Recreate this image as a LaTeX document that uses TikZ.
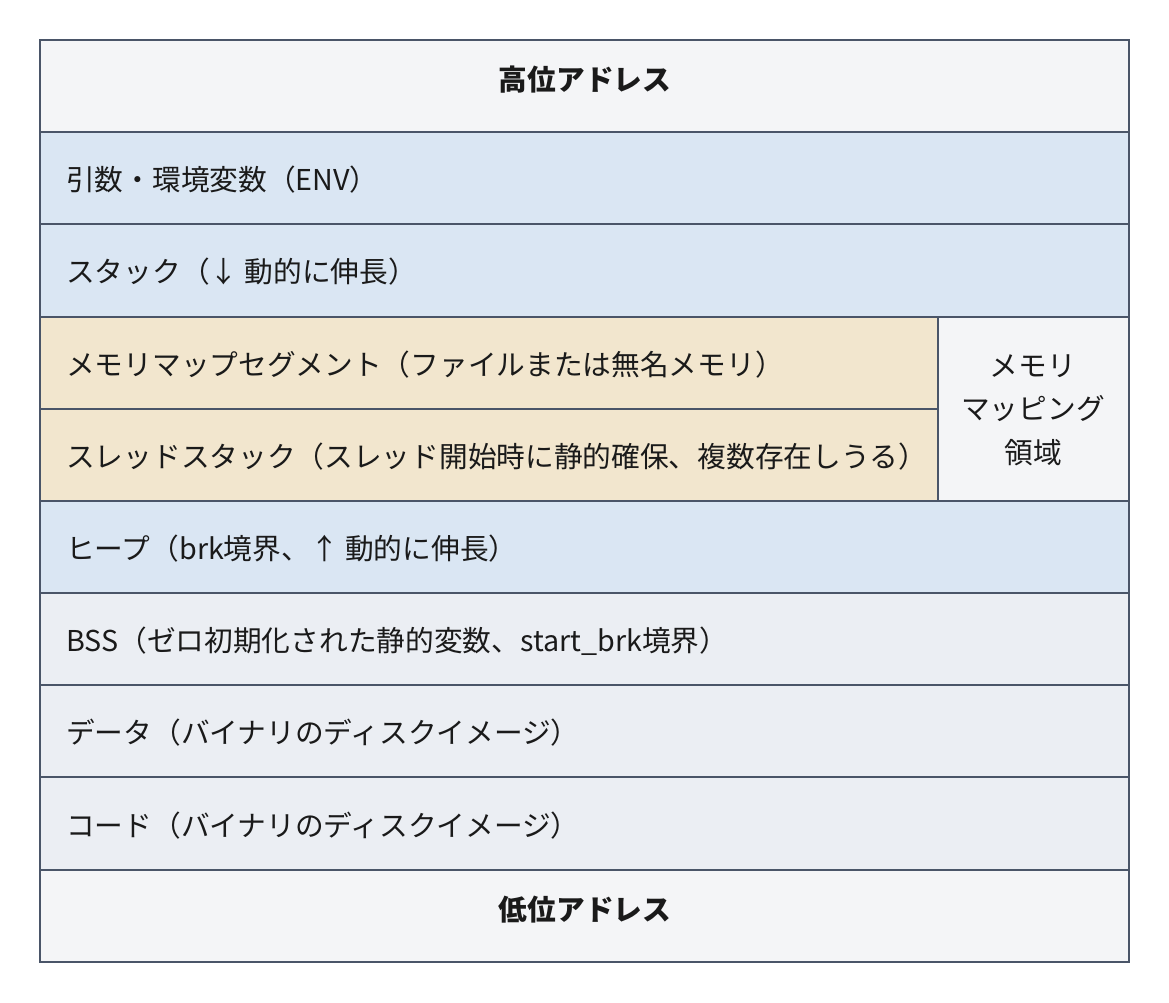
\documentclass[tikz,border=0pt]{standalone}
\usepackage{fontspec}
\setmainfont{Noto Sans CJK JP}
\begin{document}
\begin{tikzpicture}[x=1pt,y=-1pt,
  cell/.style={draw=bordercol,line width=2pt},
  lbl/.style={anchor=west,inner sep=0pt,text=textcol,font=\fontsize{28.7}{34}\selectfont},
  clbl/.style={inner sep=0pt,text=textcol,font=\fontsize{28.7}{34}\selectfont\bfseries},
]
\definecolor{bordercol}{HTML}{4A5568}
\definecolor{textcol}{HTML}{1A1A1A}
\definecolor{c-light}{HTML}{F4F5F7}
\definecolor{c-blue}{HTML}{DAE6F3}
\definecolor{c-beige}{HTML}{F2E6CE}
\definecolor{c-gray}{HTML}{EBEEF3}
\useasboundingbox (0,0) rectangle (1169,1003);
\fill[white] (0,0) rectangle (1169,1003);
% rows
\filldraw[cell,fill=c-light] (40,40) rectangle (1129,132);
\filldraw[cell,fill=c-blue] (40,132) rectangle (1129,224);
\filldraw[cell,fill=c-blue] (40,224) rectangle (1129,317);
\filldraw[cell,fill=c-beige] (40,317) rectangle (938,409);
\filldraw[cell,fill=c-beige] (40,409) rectangle (938,501);
\filldraw[cell,fill=c-light] (938,317) rectangle (1129,501);
\filldraw[cell,fill=c-blue] (40,501) rectangle (1129,593);
\filldraw[cell,fill=c-gray] (40,593) rectangle (1129,685);
\filldraw[cell,fill=c-gray] (40,685) rectangle (1129,777);
\filldraw[cell,fill=c-gray] (40,777) rectangle (1129,870);
\filldraw[cell,fill=c-light] (40,870) rectangle (1129,962);
% labels
\node[clbl] (hi) at (585,80) {高位アドレス};
\node[lbl] (env) at (66,180) {引数・環境変数（ENV）};
\node[lbl] (stack) at (66,272) {スタック（↓ 動的に伸長）};
\node[lbl] (mmap) at (66,365) {メモリマップセグメント（ファイルまたは無名メモリ）};
\node[lbl] (tstack) at (66,457) {スレッドスタック（スレッド開始時に静的確保、複数存在しうる）};
\node[text=textcol,font=\fontsize{28.7}{43.5}\selectfont,align=center,inner sep=0pt] (mreg) at (1033,410) {メモリ\\マッピング\\領域};
\node[lbl] (heap) at (66,549) {ヒープ（brk境界、↑ 動的に伸長）};
\node[lbl] (bss) at (66,641) {BSS（ゼロ初期化された静的変数、start\_brk境界）};
\node[lbl] (data) at (66,733) {データ（バイナリのディスクイメージ）};
\node[lbl] (code) at (66,826) {コード（バイナリのディスクイメージ）};
\node[clbl] (lo) at (585,910) {低位アドレス};
\end{tikzpicture}
\end{document}
